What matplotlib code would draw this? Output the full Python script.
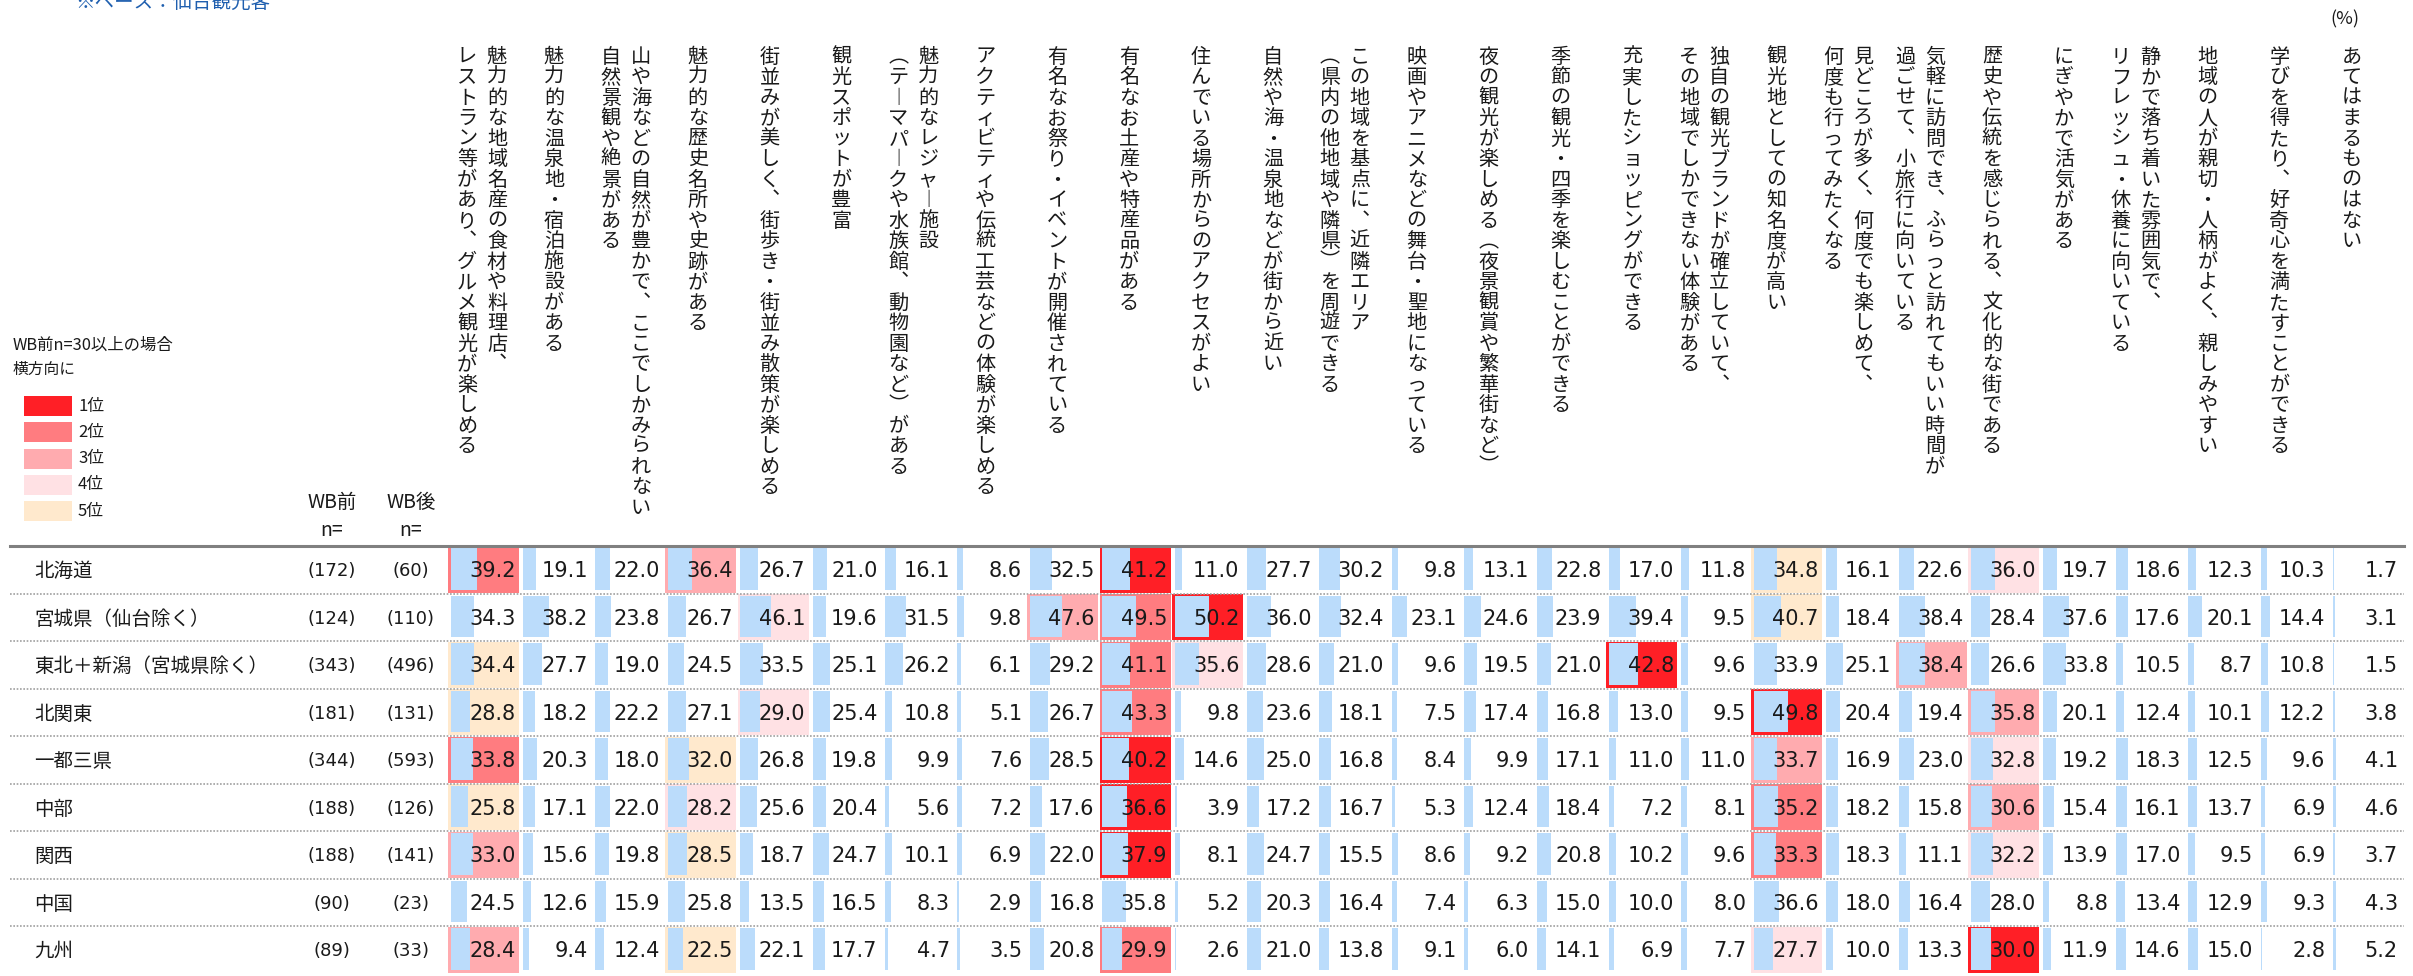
import numpy as np
import matplotlib
matplotlib.use('Agg')
import matplotlib.pyplot as plt

plt.rcParams['font.family'] = ['Noto Sans CJK JP', 'DejaVu Sans']

# ---- data ----
regions = ['北海道', '宮城県（仙台除く）', '東北＋新潟（宮城県除く）', '北関東',
           '一都三県', '中部', '関西', '中国', '九州']
n_before = [172, 124, 343, 181, 344, 188, 188, 90, 89]
n_after = [60, 110, 496, 131, 593, 126, 141, 23, 33]

# column headers, first line is drawn on the right (vertical writing)
items = [
    ['魅力的な地域名産の食材や料理店、', 'レストラン等があり、グルメ観光が楽しめる'],
    ['魅力的な温泉地・宿泊施設がある'],
    ['山や海などの自然が豊かで、ここでしかみられない', '自然景観や絶景がある'],
    ['魅力的な歴史名所や史跡がある'],
    ['街並みが美しく、街歩き・街並み散策が楽しめる'],
    ['観光スポットが豊富'],
    ['魅力的なレジャー施設', '（テーマパークや水族館、動物園など）がある'],
    ['アクティビティや伝統工芸などの体験が楽しめる'],
    ['有名なお祭り・イベントが開催されている'],
    ['有名なお土産や特産品がある'],
    ['住んでいる場所からのアクセスがよい'],
    ['自然や海・温泉地などが街から近い'],
    ['この地域を基点に、近隣エリア', '（県内の他地域や隣県）を周遊できる'],
    ['映画やアニメなどの舞台・聖地になっている'],
    ['夜の観光が楽しめる（夜景観賞や繁華街など）'],
    ['季節の観光・四季を楽しむことができる'],
    ['充実したショッピングができる'],
    ['独自の観光ブランドが確立していて、', 'その地域でしかできない体験がある'],
    ['観光地としての知名度が高い'],
    ['見どころが多く、何度でも楽しめて、', '何度も行ってみたくなる'],
    ['気軽に訪問でき、ふらっと訪れてもいい時間が', '過ごせて、小旅行に向いている'],
    ['歴史や伝統を感じられる、文化的な街である'],
    ['にぎやかで活気がある'],
    ['静かで落ち着いた雰囲気で、', 'リフレッシュ・休養に向いている'],
    ['地域の人が親切・人柄がよく、親しみやすい'],
    ['学びを得たり、好奇心を満たすことができる'],
    ['あてはまるものはない'],
]

scores = np.array([
    [39.2, 19.1, 22.0, 36.4, 26.7, 21.0, 16.1, 8.6, 32.5, 41.2, 11.0, 27.7, 30.2, 9.8,
     13.1, 22.8, 17.0, 11.8, 34.8, 16.1, 22.6, 36.0, 19.7, 18.6, 12.3, 10.3, 1.7],
    [34.3, 38.2, 23.8, 26.7, 46.1, 19.6, 31.5, 9.8, 47.6, 49.5, 50.2, 36.0, 32.4, 23.1,
     24.6, 23.9, 39.4, 9.5, 40.7, 18.4, 38.4, 28.4, 37.6, 17.6, 20.1, 14.4, 3.1],
    [34.4, 27.7, 19.0, 24.5, 33.5, 25.1, 26.2, 6.1, 29.2, 41.1, 35.6, 28.6, 21.0, 9.6,
     19.5, 21.0, 42.8, 9.6, 33.9, 25.1, 38.4, 26.6, 33.8, 10.5, 8.7, 10.8, 1.5],
    [28.8, 18.2, 22.2, 27.1, 29.0, 25.4, 10.8, 5.1, 26.7, 43.3, 9.8, 23.6, 18.1, 7.5,
     17.4, 16.8, 13.0, 9.5, 49.8, 20.4, 19.4, 35.8, 20.1, 12.4, 10.1, 12.2, 3.8],
    [33.8, 20.3, 18.0, 32.0, 26.8, 19.8, 9.9, 7.6, 28.5, 40.2, 14.6, 25.0, 16.8, 8.4,
     9.9, 17.1, 11.0, 11.0, 33.7, 16.9, 23.0, 32.8, 19.2, 18.3, 12.5, 9.6, 4.1],
    [25.8, 17.1, 22.0, 28.2, 25.6, 20.4, 5.6, 7.2, 17.6, 36.6, 3.9, 17.2, 16.7, 5.3,
     12.4, 18.4, 7.2, 8.1, 35.2, 18.2, 15.8, 30.6, 15.4, 16.1, 13.7, 6.9, 4.6],
    [33.0, 15.6, 19.8, 28.5, 18.7, 24.7, 10.1, 6.9, 22.0, 37.9, 8.1, 24.7, 15.5, 8.6,
     9.2, 20.8, 10.2, 9.6, 33.3, 18.3, 11.1, 32.2, 13.9, 17.0, 9.5, 6.9, 3.7],
    [24.5, 12.6, 15.9, 25.8, 13.5, 16.5, 8.3, 2.9, 16.8, 35.8, 5.2, 20.3, 16.4, 7.4,
     6.3, 15.0, 10.0, 8.0, 36.6, 18.0, 16.4, 28.0, 8.8, 13.4, 12.9, 9.3, 4.3],
    [28.4, 9.4, 12.4, 22.5, 22.1, 17.7, 4.7, 3.5, 20.8, 29.9, 2.6, 21.0, 13.8, 9.1,
     6.0, 14.1, 6.9, 7.7, 27.7, 10.0, 13.3, 30.0, 11.9, 14.6, 15.0, 2.8, 5.2],
])

rank_labels = ['1位', '2位', '3位', '4位', '5位']
rank_colors = ['#FF1F26', '#FF7C80', '#FFABAF', '#FFE1E4', '#FFE9CD']
min_n = 30

# ---- layout (pixels, y downwards) ----
W, H = 2413, 976
TOP = 546
ROW_H = 47.5
COL_X0 = 448
COL_W = 72.4
BAR_SCALE = (COL_W - 4.5) / 100
HEAD_X0, HEAD_DX = 482, 71.9
HEAD_Y0, CH = 45, 20.5
TEXT = '#1a1a1a'
BLUE = '#BBDCFB'
NUM_FONT = 'DejaVu Sans'

# vertical presentation forms for upright writing
VERT = {'、': '︑', '（': '︵', '）': '︶', 'ー': '︱'}

fig = plt.figure(figsize=(W / 100, H / 100), dpi=100)
ax = fig.add_axes([0, 0, 1, 1])
ax.set_xlim(0, W)
ax.set_ylim(H, 0)
ax.axis('off')


def vertical_text(x, s, size=14.5):
    em = size * 100 / 72
    for k, ch in enumerate(s):
        ax.text(x, HEAD_Y0 + k * CH + 0.88 * em, VERT.get(ch, ch), ha='center',
                va='baseline', fontsize=size, color=TEXT)


# headers
for i, lines in enumerate(items):
    xc = HEAD_X0 + i * HEAD_DX
    offs = [0] if len(lines) == 1 else [15, -15]
    for line, dx in zip(lines, offs):
        vertical_text(xc + dx, line)

ax.text(2345, 19, '(%)', ha='center', va='center', fontsize=13, color=TEXT)
# base note, cut at the top edge as in the source
ax.text(75, 8, '※ベース：仙台観光客', ha='left', va='baseline', fontsize=14, color='#1F5FAF')

# legend
ax.text(13, 345, 'WB前n=30以上の場合', ha='left', va='center', fontsize=11.8, color=TEXT)
ax.text(13, 369, '横方向に', ha='left', va='center', fontsize=11.3, color=TEXT)
leg_y = 396 + 26.3 * np.arange(len(rank_labels))
ax.barh(leg_y, 48, height=20, left=24, align='edge', color=rank_colors)
for y, lab in zip(leg_y, rank_labels):
    ax.text(78, y + 10, lab, ha='left', va='center', fontsize=12, color=TEXT)

# n headers
for x, lab in [(332, 'WB前'), (411, 'WB後')]:
    ax.text(x, 502, lab, ha='center', va='center', fontsize=14, color=TEXT)
    ax.text(x, 531, 'n=', ha='center', va='center', fontsize=14, color=TEXT)

# table
n_rows, n_cols = scores.shape
row_tops = TOP + ROW_H * np.arange(n_rows)
col_lefts = COL_X0 + COL_W * np.arange(n_cols)

for r in range(n_rows):
    y0 = row_tops[r]
    yc = y0 + ROW_H / 2
    vals = scores[r]
    bg = ['white'] * n_cols
    if n_after[r] >= min_n:
        order = np.argsort(-vals, kind='stable')
        for k in range(len(rank_colors)):
            bg[order[k]] = rank_colors[k]
    ax.barh(y0 + 0.8, COL_W - 1.5, height=ROW_H - 1.8, left=col_lefts, align='edge',
            color=bg, zorder=1)
    ax.barh(y0 + 2, vals * BAR_SCALE, height=ROW_H - 6, left=col_lefts + 2.5,
            align='edge', color=BLUE, zorder=2)
    for c in range(n_cols):
        ax.text(col_lefts[c] + COL_W - 5, yc + 7.6, f'{vals[c]:.1f}', ha='right',
                va='baseline', fontsize=15, family=NUM_FONT, color=TEXT, zorder=3)
    ax.text(34, yc + 7.4, regions[r], ha='left', va='baseline', fontsize=14, color=TEXT)
    ax.text(332, yc + 6.6, f'({n_before[r]})', ha='center', va='baseline', fontsize=13,
            family=NUM_FONT, color=TEXT)
    ax.text(411, yc + 6.6, f'({n_after[r]})', ha='center', va='baseline', fontsize=13,
            family=NUM_FONT, color=TEXT)

ax.plot([10, 2404], [TOP, TOP], color='#808080', lw=2.2, zorder=4)
ax.hlines(row_tops[1:], 10, 2404, colors='#a0a0a0', linestyles=(0, (1, 1)), lw=1.2, zorder=4)

fig.savefig('out.png', dpi=100)
